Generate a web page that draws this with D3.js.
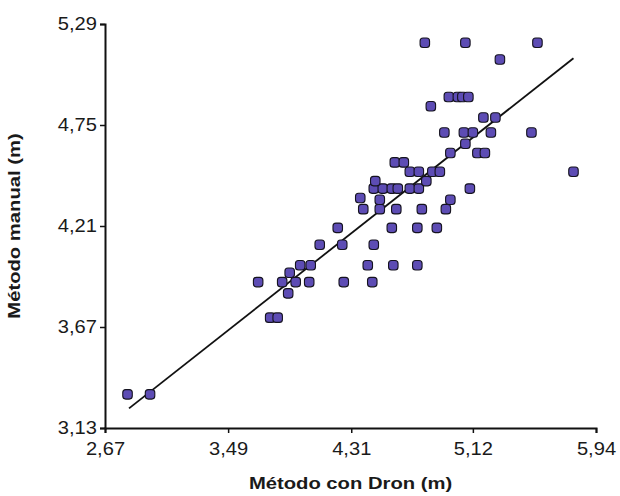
<!DOCTYPE html>
<html>
<head>
<meta charset="utf-8">
<script src="https://cdn.jsdelivr.net/npm/d3@7"></script>
<style>
  body { margin: 0; background: #fff; }
  text { font-family: "Liberation Sans", Arial, sans-serif; }
</style>
</head>
<body>
<div id="chart"></div>
<script>
// Data
const dronX = [2.82, 2.97, 3.69, 3.77, 3.82, 3.85, 3.90, 3.89, 3.94, 3.97, 4.04, 4.03, 4.10, 4.25, 4.22, 4.26, 4.45, 4.42, 4.59, 4.75,
  4.46, 4.58, 4.75, 4.88, 4.39, 4.50, 4.61, 4.78, 4.94, 4.37, 4.50, 4.97, 4.46, 4.52, 4.58, 4.62, 4.70, 4.76, 5.10, 4.47,
  4.81, 4.60, 4.66, 4.70, 4.76, 4.85, 4.90, 5.79, 4.97, 5.15, 5.20, 5.07, 4.93, 5.06, 5.12, 5.24, 5.51, 5.19, 5.27, 4.84,
  4.96, 5.02, 5.05, 5.09, 5.30, 4.80, 5.07, 5.55];
const manualY = [3.31, 3.31, 3.91, 3.72, 3.72, 3.91, 3.96, 3.85, 3.91, 4.00, 4.00, 3.91, 4.11, 4.11, 4.20, 3.91, 3.91, 4.00, 4.00, 4.00,
  4.11, 4.20, 4.20, 4.20, 4.30, 4.30, 4.30, 4.30, 4.30, 4.36, 4.35, 4.35, 4.41, 4.41, 4.41, 4.41, 4.41, 4.41, 4.41, 4.45,
  4.45, 4.55, 4.55, 4.50, 4.50, 4.50, 4.50, 4.50, 4.60, 4.60, 4.60, 4.65, 4.71, 4.71, 4.71, 4.71, 4.71, 4.79, 4.79, 4.85,
  4.90, 4.90, 4.90, 4.90, 5.10, 5.19, 5.19, 5.19];

// regression line end points
const fitX = [2.83, 5.79];
const fitY = [3.235, 5.107];

const xTicks = [2.67, 3.49, 4.31, 5.12, 5.94];
const yTicks = [3.13, 3.67, 4.21, 4.75, 5.29];

const points = dronX.map((x, i) => ({ x: x, y: manualY[i] }));
const fit = fitX.map((x, i) => ({ x: x, y: fitY[i] }));

const margin = { top: 24, right: 24, bottom: 68, left: 105 };
const width = 620 - margin.left - margin.right;
const height = 496 - margin.top - margin.bottom;

const svg = d3.select("#chart")
  .append("svg")
  .attr("width", 620)
  .attr("height", 496)
  .append("g")
  .attr("transform", `translate(${margin.left},${margin.top})`);

const x = d3.scaleLinear().domain([2.67, 5.94]).range([0, width]);
const y = d3.scaleLinear().domain([3.13, 5.29]).range([height, 0]);

const fmt = d => d.toFixed(2).replace(".", ",");

// x axis
const xAxis = svg.append("g")
  .attr("transform", `translate(0,${height})`)
  .call(d3.axisBottom(x).tickValues(xTicks).tickFormat(fmt).tickSizeOuter(0).tickSize(5).tickPadding(10));

// y axis
const yAxis = svg.append("g")
  .call(d3.axisLeft(y).tickValues(yTicks).tickFormat(fmt).tickSizeOuter(0).tickSize(5).tickPadding(2));

[xAxis, yAxis].forEach(function(ax) {
  ax.select(".domain").attr("stroke", "#111").attr("stroke-width", 2);
  ax.selectAll(".tick line").attr("stroke", "#111").attr("stroke-width", 1.5);
  ax.selectAll(".tick text")
    .attr("fill", "#1a1a1a")
    .style("font-size", "17.5px")
    .attr("transform", "scale(1.15,1)");
});

// regression line
svg.append("path")
  .datum(fit)
  .attr("fill", "none")
  .attr("stroke", "#111")
  .attr("stroke-width", 1.8)
  .attr("d", d3.line().x(d => x(d.x)).y(d => y(d.y)));

// points
const s = 9.5;
svg.selectAll(".pt")
  .data(points)
  .enter().append("rect")
  .attr("class", "pt")
  .attr("x", d => x(d.x) - s / 2)
  .attr("y", d => y(d.y) - s / 2)
  .attr("width", s)
  .attr("height", s)
  .attr("rx", 3)
  .attr("fill", "#5d4cb4")
  .attr("stroke", "#15131f")
  .attr("stroke-width", 1.1);

// axis titles
svg.append("text")
  .attr("transform", `translate(${width / 2},${height + 61}) scale(1.19,1)`)
  .attr("text-anchor", "middle")
  .style("font-size", "17px")
  .style("font-weight", "bold")
  .attr("fill", "#1a1a1a")
  .text("Método con Dron (m)");

svg.append("text")
  .attr("transform", `translate(${-margin.left + 20},${height / 2}) rotate(-90) scale(1.19,1)`)
  .attr("text-anchor", "middle")
  .style("font-size", "17px")
  .style("font-weight", "bold")
  .attr("fill", "#1a1a1a")
  .text("Método manual (m)");
</script>
</body>
</html>
